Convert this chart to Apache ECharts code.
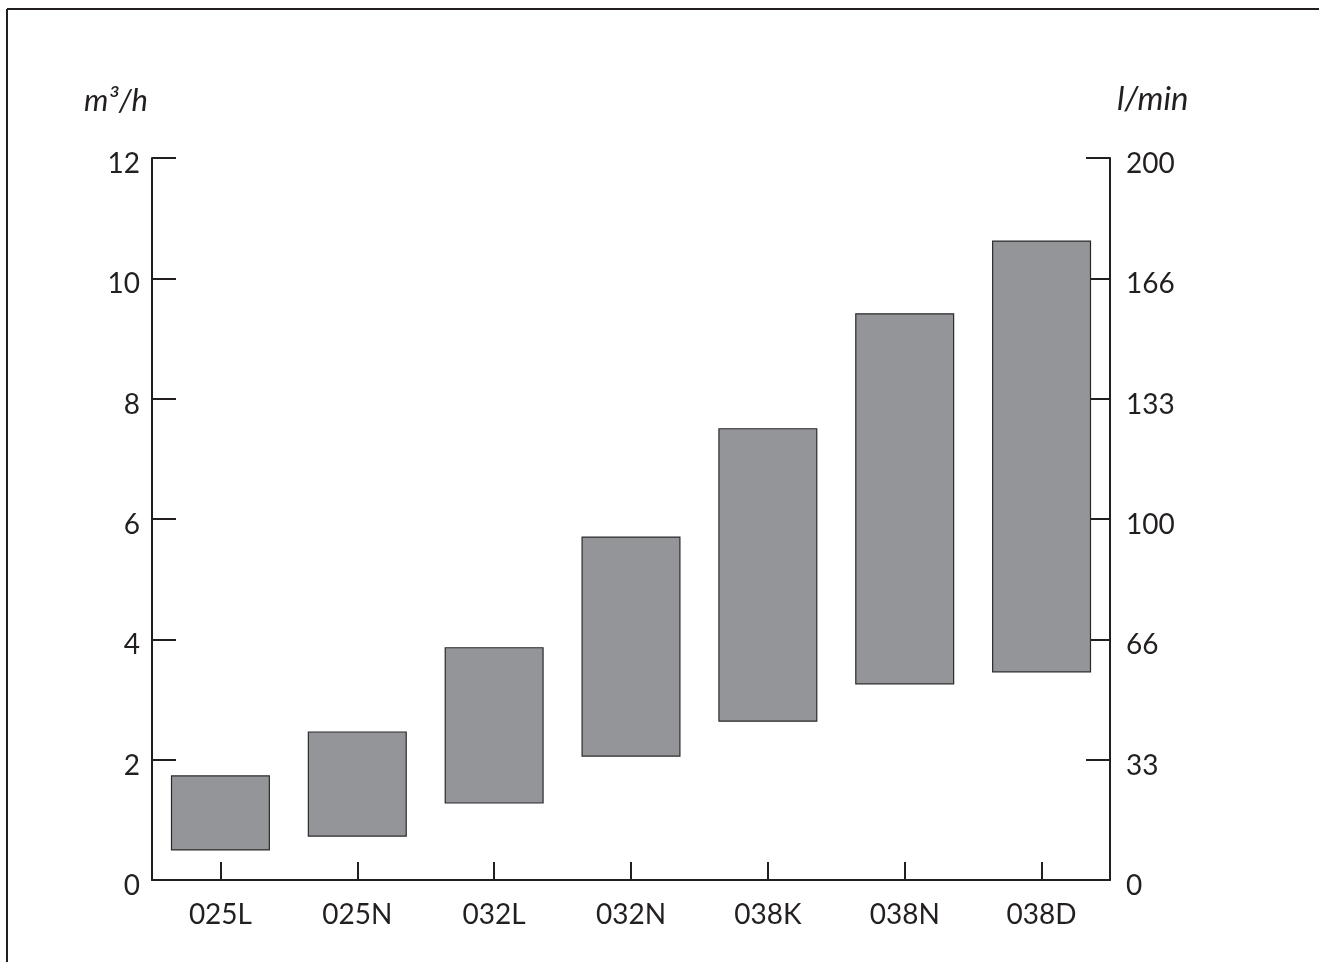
<!DOCTYPE html>
<html>
<head>
<meta charset="utf-8">
<script src="https://cdn.jsdelivr.net/npm/echarts@6/dist/echarts.min.js"></script>
<style>
html,body{margin:0;padding:0;background:#fff;}
#chart{width:1319px;height:962px;}
</style>
</head>
<body>
<div id="chart"></div>
<script>
// Data
var categories = ['025L', '025N', '032L', '032N', '038K', '038N', '038D'];
var lowValues  = [0.50, 0.73, 1.28, 2.06, 2.64, 3.26, 3.46];
var highValues = [1.73, 2.46, 3.86, 5.70, 7.50, 9.41, 10.62];
var leftTicks = ['0', '2', '4', '6', '8', '10', '12'];
var rightTicks = ['0', '33', '66', '100', '133', '166', '200'];
var leftUnit = 'm³/h';
var rightUnit = 'l/min';

var rangeData = categories.map(function (c, i) { return [i, lowValues[i], highValues[i]]; });

var FONT = 'Lato';
var INK = '#231f20';

var chart = echarts.init(document.getElementById('chart'), null, {renderer: 'canvas'});

function yAxisCommon(labels, pos) {
  return {
    type: 'value',
    position: pos,
    min: 0, max: 12, interval: 2,
    axisLine: {show: true, lineStyle: {color: INK, width: 2}},
    axisTick: {show: true, inside: true, length: 24, lineStyle: {color: INK, width: 2}},
    splitLine: {show: false},
    axisLabel: {
      color: INK, fontFamily: FONT, fontSize: 28,
      margin: pos === 'left' ? 12 : 16,
      verticalAlign: 'top',
      lineHeight: 12,
      formatter: function (v) { return labels[Math.round(v / 2)]; }
    }
  };
}

var yLeft = yAxisCommon(leftTicks, 'left');
yLeft.name = leftUnit;
yLeft.nameLocation = 'end';
yLeft.nameGap = 42;
yLeft.nameTextStyle = {fontFamily: FONT, fontSize: 31, fontStyle: 'italic', color: INK, align: 'right', padding: [0, 4, 0, 0]};

var yRight = yAxisCommon(rightTicks, 'right');
yRight.name = rightUnit;
yRight.nameLocation = 'end';
yRight.nameGap = 42;
yRight.nameTextStyle = {fontFamily: FONT, fontSize: 33, fontStyle: 'italic', color: INK, align: 'left', padding: [0, 0, 0, 7]};

var option = {
  animation: false,
  backgroundColor: '#fff',
  grid: {left: 152, right: 209, top: 158, bottom: 82, containLabel: false},
  xAxis: {
    type: 'category',
    data: categories,
    boundaryGap: true,
    axisLine: {show: true, lineStyle: {color: INK, width: 2}},
    axisTick: {show: true, inside: true, alignWithLabel: true, length: 18, lineStyle: {color: INK, width: 2}},
    axisLabel: {color: INK, fontFamily: FONT, fontSize: 28, margin: 21}
  },
  yAxis: [yLeft, yRight],
  graphic: [
    {type: 'line', silent: true, shape: {x1: 7, y1: 9, x2: 1319, y2: 9}, style: {stroke: INK, lineWidth: 2}},
    {type: 'line', silent: true, shape: {x1: 7, y1: 9, x2: 7, y2: 962}, style: {stroke: INK, lineWidth: 2}}
  ],
  series: [{
    type: 'custom',
    yAxisIndex: 0,
    data: rangeData,
    encode: {x: 0, y: [1, 2]},
    renderItem: function (params, api) {
      var idx = api.value(0);
      var lo = api.coord([idx, api.value(1)]);
      var hi = api.coord([idx, api.value(2)]);
      var w = api.size([1, 0])[0] * 0.715;
      return {
        type: 'rect',
        shape: {x: lo[0] - w / 2, y: hi[1], width: w, height: lo[1] - hi[1]},
        style: {fill: '#939598', stroke: '#2b2a2b', lineWidth: 1.2}
      };
    }
  }]
};
chart.setOption(option);
</script>
</body>
</html>
